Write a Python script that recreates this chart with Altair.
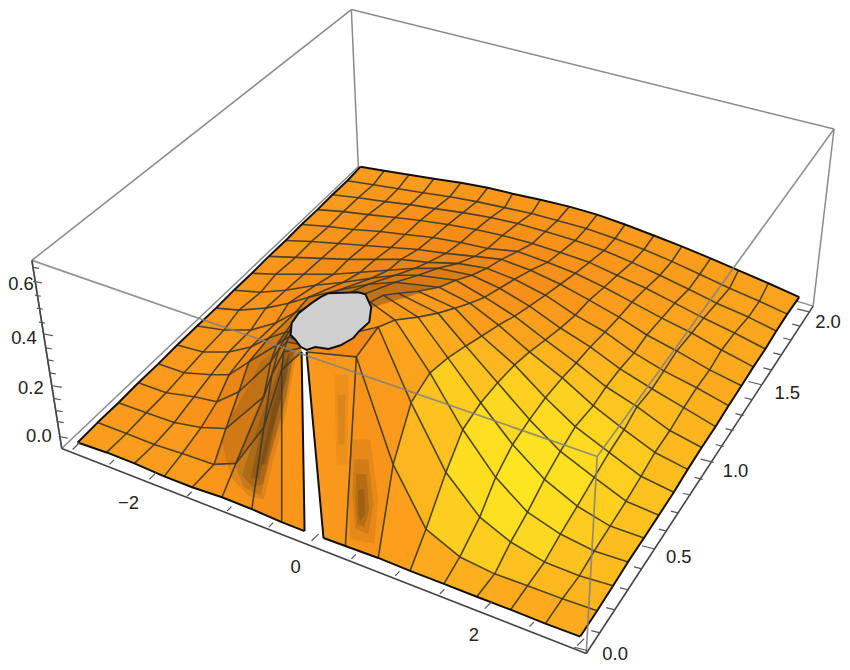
import altair as alt

# Mesh: one list per mesh column, near edge to far edge.
COL_0 = [(78,443),(98,423),(119,403),(139,383),(159,364),(178,345),(198,326),(217,308),(235,290),(253,273),(270,256),(287,240),(303,224),(319,209),(334,194),(349,180),(362,166)]
COL_1 = [(107,453),(127,434),(147,413),(167,393),(185,373),(204,352),(225,330),(240,310),(262,292),(277,274),(297,257),(313,241),(330,226),(345,211),(360,197),(375,184),(386,170)]
COL_2 = [(135,464),(155,445),(175,423),(195,397),(212,375),(230,352),(252,330),(267,308),(287,290),(305,274),(323,258),(340,243),(355,229),(370,214),(387,201),(400,188),(411,174)]
COL_3 = [(165,477),(183,454),(202,428),(218,402),(230,375),(252,347),(277,323),(290,303),(317,285),(335,274),(350,259),(367,245),(382,231),(397,217),(412,204),(425,192),(436,178)]
COL_4 = [(193,488),(215,465),(227,429),(240,392),(250,362),(270,338),(297,312),(310,297),(345,282),(362,272),(377,259),(393,247),(407,234),(422,220),(437,208),(452,196),(463,182)]
COL_5 = [(223,498),(237,464),(265,397),(272,362),(278,345),(287,332),(303,310),(340,290),(373,278),(390,270),(403,259),(420,249),(435,237),(450,224),(465,212),(479,201),(490,187)]
COL_6 = [(253,510),(265,428),(273,375),(280,350),(285,340),(290,332),(300,316),(370,284),(397,275),(417,268),(430,262),(448,253),(463,242),(478,229),(493,217),(507,207),(515,193)]
COL_7 = [(283,523),(283,370),(285,352),(288,342),(290,337),(294,332),(298,320),(397,282),(420,275),(440,268),(460,263),(477,256),(490,248),(505,235),(520,223),(534,213),(543,199)]
COL_8_LEFT = [(306,532),(303,352),(302,348),(300,344),(298,340),(296,336),(296,330),(441,287),(458,280),(474,275),(489,268),(504,259),(520,251),(535,243),(548,231),(560,220),(572,206)]
COL_8_RIGHT = [(325,539),(308,352),(345,335),(372,302),(385,295),(400,293),(420,291),(441,287),(458,280),(474,275),(489,268),(504,259),(520,251),(535,243),(548,231),(560,220),(572,206)]
COL_9 = [(347,547),(358,357),(380,327),(397,320),(420,317),(440,313),(457,308),(472,303),(487,297),(502,288),(517,279),(533,270),(550,262),(563,252),(578,240),(589,228),(600,214)]
COL_10 = [(380,559),(395,465),(413,403),(432,373),(450,358),(468,346),(484,336),(501,325),(517,316),(532,306),(548,295),(563,284),(578,273),(592,262),(607,250),(618,238),(628,224)]
COL_11 = [(412,572),(428,530),(448,473),(465,430),(483,403),(500,383),(517,365),(532,352),(548,340),(563,328),(578,315),(592,300),(607,287),(620,275),(635,262),(647,249),(657,235)]
COL_12 = [(446,585),(462,558),(482,518),(498,478),(515,445),(532,420),(548,398),(565,378),(579,363),(593,347),(608,332),(622,317),(635,302),(649,288),(663,275),(675,261),(685,246)]
COL_13 = [(479,598),(497,575),(513,543),(530,513),(547,480),(563,452),(578,427),(596,406),(609,387),(623,369),(637,353),(650,335),(665,318),(678,303),(692,289),(703,274),(714,258)]
COL_14 = [(513,611),(530,587),(547,563),(563,535),(580,507),(597,478),(612,453),(627,430),(640,407),(655,389),(667,371),(680,351),(695,333),(707,318),(720,303),(733,288),(742,270)]
COL_15 = [(548,625),(565,600),(582,577),(597,552),(613,527),(629,502),(644,477),(658,453),(673,431),(687,408),(700,388),(713,370),(725,350),(738,333),(752,317),(763,301),(772,283)]
COL_16 = [(583,638),(600,612),(616,587),(631,563),(647,539),(662,516),(677,493),(691,470),(705,448),(719,427),(732,406),(745,386),(757,367),(769,349),(780,331),(791,314),(803,297)]

LEFT_COLS = [COL_0, COL_1, COL_2, COL_3, COL_4, COL_5, COL_6, COL_7, COL_8_LEFT]
RIGHT_COLS = [COL_8_RIGHT, COL_9, COL_10, COL_11, COL_12, COL_13, COL_14, COL_15, COL_16]

# Brightness of each mesh cell, near row first (0 dark brown ... 10 yellow).
SHADE = [
 [6.2,6.2,6.2,6.2,5.8,5.6,5.4,5.8,5.9,5.6,6.3,7.0,7.2,7.0,7.0,7.0],
 [6.0,6.0,6.0,5.5,4.6,4.3,4.3,4.3,5.0,6.0,7.5,8.5,8.5,8.0,7.6,7.4],
 [6.0,6.0,5.6,5.0,4.0,4.0,4.0,3.6,6.0,6.5,8.0,9.3,9.5,9.0,8.0,7.7],
 [6.0,6.0,5.6,4.7,3.8,3.5,3.2,3.0,6.0,7.0,8.5,9.4,9.8,9.3,8.4,7.8],
 [6.0,6.0,5.6,5.0,3.8,3.2,3.0,3.0,6.0,7.0,8.0,9.0,9.6,9.5,8.6,8.0],
 [6.0,6.0,5.5,5.0,4.0,3.2,3.0,3.0,6.0,6.5,7.5,8.6,9.2,9.2,8.6,8.0],
 [6.0,5.8,5.6,5.0,4.0,3.5,3.5,3.5,5.8,6.2,7.0,8.0,8.7,8.8,8.4,7.8],
 [5.8,5.7,5.4,5.0,4.5,4.0,4.0,4.0,5.5,6.0,6.5,7.4,8.0,8.2,8.0,7.6],
 [5.8,5.6,5.2,5.0,4.6,4.4,4.2,4.2,5.2,5.6,6.3,7.0,7.5,7.8,7.6,7.4],
 [5.8,5.5,5.2,5.0,4.8,4.6,4.5,4.5,5.0,5.4,6.0,6.6,7.1,7.4,7.4,7.2],
 [5.8,5.5,5.3,5.1,5.0,4.9,4.8,4.8,5.0,5.3,5.8,6.3,6.8,7.0,7.0,7.0],
 [5.8,5.6,5.4,5.2,5.1,5.0,5.0,5.0,5.2,5.4,5.7,6.1,6.5,6.8,6.9,6.9],
 [5.9,5.7,5.5,5.4,5.2,5.2,5.2,5.2,5.3,5.5,5.7,6.0,6.3,6.6,6.8,6.8],
 [6.0,5.8,5.6,5.5,5.4,5.4,5.4,5.4,5.5,5.6,5.8,6.0,6.2,6.4,6.6,6.7],
 [6.0,5.9,5.8,5.7,5.6,5.6,5.6,5.6,5.6,5.7,5.9,6.0,6.2,6.3,6.5,6.6],
 [6.0,6.0,6.0,5.9,5.8,5.8,5.8,5.8,5.8,5.9,6.0,6.1,6.2,6.3,6.4,6.5],
]
SHADE_STOPS = [0, 2, 4, 5, 6, 7, 8, 9, 10]
SHADE_COLOURS = ["#4a3a24", "#8a5a1c", "#d57a14", "#f48a18", "#fb9a1c", "#fdab1e", "#fdc21f", "#fdd820", "#fde822"]

# Dark plume and streaks by the slit, widest outline first, with how strongly each one darkens.
PLUME = [
 ([(222,440),(232,478),(250,497),(265,500),(276,455),(288,410),(298,352),(284,345),(262,362),(245,395),(230,420)], 0.12),
 ([(236,465),(245,488),(262,496),(272,455),(285,410),(296,352),(286,348),(268,385),(252,425)], 0.15),
 ([(243,476),(254,488),(264,485),(274,445),(288,395),(295,352),(287,352),(273,388),(258,430)], 0.18),
 ([(252,478),(260,480),(272,435),(288,380),(292,352),(285,362),(272,405),(260,440)], 0.22),
 ([(262,465),(267,465),(276,425),(287,380),(290,355),(283,375),(272,415)], 0.25),
]
STREAKS = [
 ([(352,440),(372,440),(380,500),(376,545),(352,540),(350,490)], 0.10),
 ([(356,460),(370,460),(375,505),(370,535),(357,530),(354,495)], 0.14),
 ([(358,475),(368,475),(371,510),(366,528),(359,525),(357,500)], 0.18),
 ([(360,490),(366,490),(367,515),(362,522),(360,515)], 0.22),
 ([(336,375),(350,375),(349,465),(338,465)], 0.07),
 ([(339,395),(347,395),(346,445),(340,445)], 0.10),
]

HOLE = [(330,293),(360,292),(367,294),(373,307),(371,322),(360,332),(355,338),(343,345),(330,349),(317,347),(308,350),(302,347),(297,340),(292,335),(293,323),(300,313),(313,303),(322,297)]

FRAME = [(8,8),(846,8),(846,666),(8,666),(8,8)]

BOX_BACK = [
 [(353,8),(32,260)], [(353,8),(838,128)], [(353,8),(360,166)], [(62,449),(360,166)], [(360,166),(817,306)],
]
BOX_SIDE = [[(32,260),(62,449)], [(838,128),(817,306)]]
BOX_FRONT = [[(32,260),(600,457),(838,128)], [(600,457),(589,655)]]
AXES = [[(32,260),(62,449)], [(62,449),(589,655)], [(589,655),(817,306)]]

X_TICKS_MAJOR = [(150,480),(313,542),(487,610),(73,450),(580,647)]
X_TICKS_MINOR = [(110,465),(188,497),(228,512),(270,528),(353,560),(397,577),(442,595),(532,628)]
Y_TICKS_MAJOR = [(590,652),(658,550),(717,463),(765,385),(814,312)]
Y_TICKS_MINOR = [(602,634),(617,611),(631,591),(645,570),(670,532),(682,514),(694,496),(706,480),(727,447),(737,431),(747,416),(756,400),(775,370),(785,355),(795,340),(804,326)]
Z_TICKS_MAJOR = [(33,281),(44,334),(53,386),(59,437)]
Z_TICKS_MINOR = [(33,267),(35,295),(37,308),(39,322),(46,348),(48,360),(50,373),(55,399),(57,411),(58,422)]
TICK_DIRS = {"x": (1, -1), "y": (-1, -0.25), "z": (1, 0.18)}

LABELS_TEXT = ["0.6", "0.4", "0.2", "0.0", "−2", "0", "2", "0.0", "0.5", "1.0", "1.5", "2.0"]
LABELS_X = [21, 24, 31, 39, 129, 297, 476, 618, 682, 739, 791, 832]
LABELS_Y = [284, 338, 388, 437, 504, 568, 636, 656, 558, 472, 393, 322]


def polygon(points, **props):
    ring = [list(p) for p in points]
    if ring[0] != ring[-1]:
        ring.append(ring[0])
    return {"type": "Feature", "properties": props, "geometry": {"type": "Polygon", "coordinates": [ring]}}


def line(points):
    return {"type": "Feature", "properties": {}, "geometry": {"type": "LineString", "coordinates": [list(p) for p in points]}}


def data(features):
    return alt.InlineData(values={"type": "FeatureCollection", "features": features},
                          format=alt.DataFormat(type="json", property="features"))


def ticks(points, axis, length):
    dx, dy = TICK_DIRS[axis]
    return [line([p, (p[0] + dx * length, p[1] + dy * length)]) for p in points]


cells = []
for j, row in enumerate(SHADE):
    for i, value in enumerate(row):
        if i < 8:
            a, b = LEFT_COLS[i], LEFT_COLS[i + 1]
        else:
            a, b = RIGHT_COLS[i - 8], RIGHT_COLS[i - 7]
        cells.append(polygon([a[j], b[j], b[j + 1], a[j + 1]], shade=value))

mesh = []
for j in range(1, 16):
    if j <= 6:
        mesh.append(line([c[j] for c in LEFT_COLS]))
        mesh.append(line([c[j] for c in RIGHT_COLS]))
    else:
        mesh.append(line([c[j] for c in LEFT_COLS] + [c[j] for c in RIGHT_COLS[1:]]))
for c in LEFT_COLS[1:8] + RIGHT_COLS[1:8]:
    mesh.append(line(c))
mesh.append(line(COL_8_RIGHT[2:]))

edges = [
    line([c[0] for c in LEFT_COLS]), line([c[0] for c in RIGHT_COLS]),
    line(COL_0), line(COL_16),
    line([c[16] for c in LEFT_COLS] + [c[16] for c in RIGHT_COLS[1:]]),
    line(COL_8_LEFT[:2]), line(COL_8_RIGHT[:2]),
]


def strokes(features, colour, width, opacity=1.0):
    return alt.Chart(data(features)).mark_geoshape(
        filled=False, stroke=colour, strokeWidth=width, strokeOpacity=opacity, strokeJoin="round"
    ).project(type="identity")


def fills(points, colour, opacity):
    return alt.Chart(data([polygon(points)])).mark_geoshape(
        filled=True, fill=colour, fillOpacity=opacity, strokeWidth=0
    ).project(type="identity")


frame_layer = alt.Chart(data([polygon(FRAME)])).mark_geoshape(
    filled=True, fill="#ffffff", strokeWidth=0
).project(type="identity")

cell_layer = alt.Chart(data(cells)).mark_geoshape(filled=True, strokeWidth=0.6).encode(
    color=alt.Color("properties.shade:Q", legend=None,
                    scale=alt.Scale(domain=SHADE_STOPS, range=SHADE_COLOURS)),
    stroke=alt.Stroke("properties.shade:Q", legend=None,
                      scale=alt.Scale(domain=SHADE_STOPS, range=SHADE_COLOURS)),
).project(type="identity")

hole_layer = alt.Chart(data([polygon(HOLE)])).mark_geoshape(
    filled=True, fill="#cfcfcf", stroke="#111111", strokeWidth=2, strokeJoin="round"
).project(type="identity")

label_rows = [{"t": t, "x": x, "y": y} for t, x, y in zip(LABELS_TEXT, LABELS_X, LABELS_Y)]
label_layer = alt.Chart(alt.Data(values=label_rows)).mark_text(
    font="Liberation Sans", fontSize=18.5, color="#222222", align="center", baseline="middle"
).encode(longitude="x:Q", latitude="y:Q", text="t:N").project(type="identity")

tick_features = (ticks(X_TICKS_MAJOR, "x", 7) + ticks(X_TICKS_MINOR, "x", 4.5)
                 + ticks(Y_TICKS_MAJOR, "y", 13) + ticks(Y_TICKS_MINOR, "y", 8)
                 + ticks(Z_TICKS_MAJOR, "z", 9) + ticks(Z_TICKS_MINOR, "z", 6))

shade_layers = [fills(p, "#3a2c18", o) for p, o in PLUME] + [fills(p, "#4a3010", o) for p, o in STREAKS]

chart = alt.layer(
    frame_layer,
    strokes([line(s) for s in BOX_BACK], "#8a8a8a", 1.5),
    strokes([line(s) for s in BOX_SIDE], "#8a8a8a", 1.5),
    cell_layer,
    *shade_layers,
    strokes(mesh, "#3f3a2a", 1.6, 0.92),
    hole_layer,
    strokes(edges, "#111111", 2.0),
    strokes([line(s) for s in BOX_FRONT], "#808080", 1.7, 0.85),
    strokes([line(s) for s in AXES], "#444444", 1.6),
    strokes(tick_features, "#555555", 1.2),
    label_layer,
).properties(
    width=838, height=658, padding=0, background="#ffffff",
    autosize=alt.AutoSizeParams(type="none"),
).configure_view(stroke=None)

chart.save("out.html", embed_options={"renderer": "svg", "actions": False})
